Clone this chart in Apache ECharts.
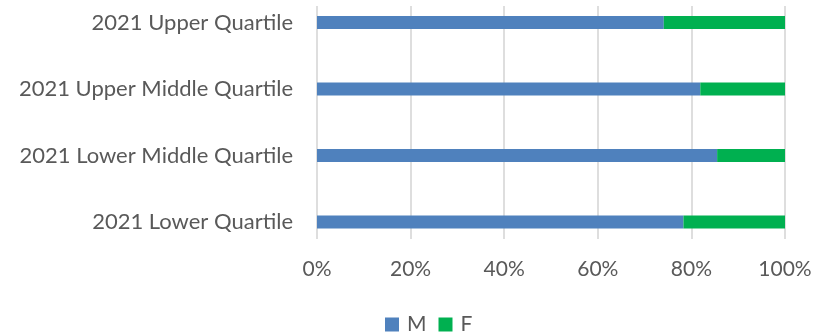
<!DOCTYPE html>
<html>
<head>
<meta charset="utf-8">
<script src="https://cdn.jsdelivr.net/npm/echarts@6/dist/echarts.min.js"></script>
<style>
  html, body { margin: 0; padding: 0; background: #fff; }
  #chart { width: 831px; height: 332px; }
</style>
</head>
<body>
<div id="chart"></div>
<script>
const categories = ["2021 Lower Quartile", "2021 Lower Middle Quartile", "2021 Upper Middle Quartile", "2021 Upper Quartile"];
const maleValues = [78.3, 85.5, 81.9, 74.1];
const femaleValues = [21.7, 14.5, 18.1, 25.9];
const tickValues = [0, 20, 40, 60, 80, 100];

const textColor = "#595959";
const font = "Lato";

const myChart = echarts.init(document.getElementById("chart"));
const option = {
    animation: false,
    color: ["#4F81BD", "#00B050"],
    legend: {
        top: 314,
        left: 385,
        padding: 0,
        itemWidth: 14,
        itemHeight: 14,
        itemGap: 12,
        icon: "rect",
        textStyle: { color: textColor, fontSize: 21, lineHeight: 20, fontFamily: font, padding: [0, 0, 0, 3] },
        data: ["M", "F"],
    },
    grid: [
        // gridlines and percent labels
        { left: 317, right: 46, top: 6, bottom: 93 },
        // bars and category labels
        { left: 317, right: 46, top: 22.5, bottom: 110 },
    ],
    xAxis: [
        {
            gridIndex: 0,
            type: "value",
            min: 0,
            max: 100,
            interval: 20,
            axisLine: { show: false },
            axisTick: { show: false },
            axisLabel: {
                margin: 20,
                fontSize: 21,
                color: textColor,
                fontFamily: font,
                formatter: (v) => (tickValues.includes(v) ? v + "%" : ""),
            },
            splitLine: { lineStyle: { color: "#dedede", width: 2 } },
        },
        {
            gridIndex: 1,
            type: "value",
            min: 0,
            max: 100,
            show: false,
        },
    ],
    yAxis: [
        {
            gridIndex: 0,
            type: "category",
            data: categories,
            show: false,
        },
        {
            gridIndex: 1,
            type: "category",
            data: categories,
            boundaryGap: false,
            axisLine: { show: false },
            axisTick: { show: false },
            splitLine: { show: false },
            axisLabel: {
                margin: 24,
                fontSize: 22,
                color: textColor,
                fontFamily: font,
            },
        },
    ],
    series: [
        {
            name: "M",
            type: "bar",
            stack: "total",
            xAxisIndex: 1,
            yAxisIndex: 1,
            barWidth: 13,
            data: maleValues,
        },
        {
            name: "F",
            type: "bar",
            stack: "total",
            xAxisIndex: 1,
            yAxisIndex: 1,
            barWidth: 13,
            data: femaleValues,
        },
    ],
};
myChart.setOption(option);
</script>
</body>
</html>
